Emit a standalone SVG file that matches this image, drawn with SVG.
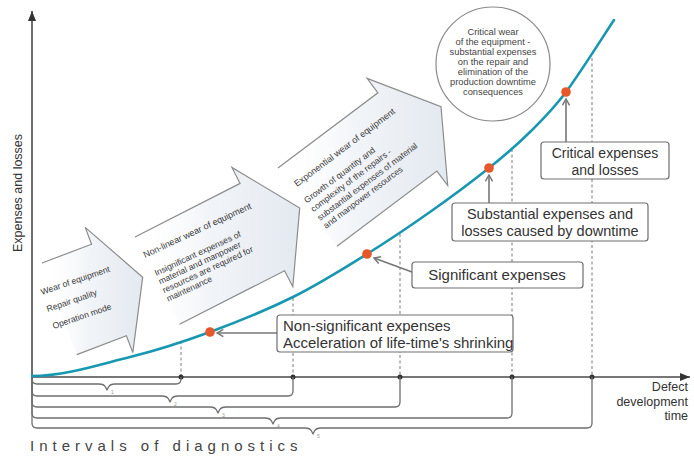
<svg xmlns="http://www.w3.org/2000/svg" width="694" height="456" viewBox="0 0 694 456">
<style>
.ax{stroke:#4a4a4a;stroke-width:1.6;fill:none}
.dash{stroke:#7a7a7a;stroke-width:1;stroke-dasharray:3 2.5;fill:none}
.br{stroke:#6e6e6e;stroke-width:1.3;fill:none;stroke-linejoin:round}
.box{fill:#fff;stroke:#6e6e6e;stroke-width:1.2}
.af{fill:url(#ag);stroke:none}
.ao{fill:none;stroke:#8c8c8c;stroke-width:1.2;stroke-linejoin:miter}
.conn{stroke:#777;stroke-width:1.6;fill:none;marker-end:url(#chev)}
.lbl{font-family:"Liberation Sans",Arial,sans-serif;font-size:15px;fill:#333}
.mid{text-anchor:middle}
.at{font-family:"Liberation Sans",Arial,sans-serif;font-size:8.6px;fill:#3a3a3a}
.ct{font-family:"Liberation Sans",Arial,sans-serif;font-size:9.3px;fill:#444;text-anchor:middle}
.dot{fill:#e8572a}
.tick{fill:#333}
.dig{font-family:"Liberation Sans",Arial,sans-serif;font-size:5px;fill:#999}
</style>
<defs>
<linearGradient id="ag" x1="0" y1="0" x2="1" y2="0">
<stop offset="0" stop-color="#ffffff" stop-opacity="0"/>
<stop offset="0.45" stop-color="#f0f3f7" stop-opacity="0.9"/>
<stop offset="1" stop-color="#e3e9f0" stop-opacity="1"/>
</linearGradient>
<marker id="ah" viewBox="0 0 10 8" refX="10" refY="4" markerWidth="10" markerHeight="8" markerUnits="userSpaceOnUse" orient="auto">
<path d="M0,0 L10,4 L0,8 z" fill="#333"/>
</marker>
<marker id="chev" viewBox="0 0 10 10" refX="9" refY="5" markerWidth="9" markerHeight="9" markerUnits="userSpaceOnUse" orient="auto">
<path d="M2,1 L9,5 L2,9" fill="none" stroke="#777" stroke-width="1.6"/>
</marker>
</defs>
<rect width="694" height="456" fill="#fff"/>

<g id="arrow1">
<path class="af" d="M76.8,354.6 L126.4,335.8 L132.8,352.6 L142.7,277.2 L85.2,227.4 L91.6,244.2 L42,263 Z"/>
<path class="ao" d="M76.8,354.6 L126.4,335.8 L132.8,352.6 L142.7,277.2 L85.2,227.4 L91.6,244.2 L42,263"/>
<g transform="translate(42,295) rotate(-19)">
<text class="at" x="0" y="0">Wear of equipment</text>
<text class="at" x="0" y="18">Repair quality</text>
<text class="at" x="0" y="36">Operation mode</text>
</g>
</g>

<g id="arrow2">
<path class="af" d="M179.5,324.3 L284.6,270.7 L292.8,286.7 L299.7,208 L231.9,167.4 L240.1,183.4 L135,237 Z"/>
<path class="ao" d="M179.5,324.3 L284.6,270.7 L292.8,286.7 L299.7,208 L231.9,167.4 L240.1,183.4 L135,237"/>
<g transform="translate(145,258) rotate(-25)">
<text class="at" x="0" y="0" style="font-size:9px">Non-linear wear of equipment</text>
<text class="at" x="2.5" y="21">Insignificant expenses of</text>
<text class="at" x="2.5" y="30.5">material and manpower</text>
<text class="at" x="2.5" y="40">resources are required for</text>
<text class="at" x="2.5" y="49.5">maintenance</text>
</g>
</g>

<g id="arrow3">
<path class="af" d="M337,246.3 L436.9,171.1 L447.7,185.5 L441,106.7 L367.1,78.4 L377.9,92.8 L278,168 Z"/>
<path class="ao" d="M337,246.3 L436.9,171.1 L447.7,185.5 L441,106.7 L367.1,78.4 L377.9,92.8 L278,168"/>
<g transform="translate(297,187) rotate(-37)">
<text class="at" x="0" y="0" style="font-size:9px">Exponential wear of equipment</text>
<text class="at" x="-2" y="19">Growth of quantity and</text>
<text class="at" x="-2" y="30">complexity of the repairs -</text>
<text class="at" x="-2" y="41">substantial expenses of material</text>
<text class="at" x="-2" y="51">and manpower resources</text>
</g>
</g>

<g id="grid">
<line class="dash" x1="181" y1="341" x2="181" y2="377"/>
<line class="dash" x1="293" y1="298" x2="293" y2="377"/>
<line class="dash" x1="400" y1="234" x2="400" y2="377"/>
<line class="dash" x1="512" y1="149" x2="512" y2="377"/>
<line class="dash" x1="592" y1="58" x2="592" y2="377"/>
</g>

<g id="axes">
<line class="ax" x1="32" y1="379" x2="32" y2="11" marker-end="url(#ah)"/>
<line class="ax" x1="31" y1="377" x2="690" y2="377" marker-end="url(#ah)"/>
<circle class="tick" cx="181" cy="377" r="2.5"/>
<circle class="tick" cx="293" cy="377" r="2.5"/>
<circle class="tick" cx="400" cy="377" r="2.5"/>
<circle class="tick" cx="512" cy="377" r="2.5"/>
<circle class="tick" cx="592" cy="377" r="2.5"/>
<text class="lbl" transform="translate(22,193) rotate(-90)" text-anchor="middle" style="font-size:12.5px">Expenses and losses</text>
<text class="lbl" x="688" y="391" text-anchor="end" style="font-size:12.5px">Defect</text>
<text class="lbl" x="688" y="405.5" text-anchor="end" style="font-size:12.5px">development</text>
<text class="lbl" x="688" y="420" text-anchor="end" style="font-size:12.5px">time</text>
</g>

<g id="intervals">
<path class="br" d="M32,377 V379 Q32,384 37,384 H99 q5,0 6.5,3 l1.5,3 l1.5,-3 q1.5,-3 6.5,-3 H176 Q181,384 181,379 V377"/>
<path class="br" d="M32,377 V391 Q32,396 37,396 H162 q5,0 6.5,3 l1.5,3 l1.5,-3 q1.5,-3 6.5,-3 H288 Q293,396 293,391 V377"/>
<path class="br" d="M32,377 V402 Q32,407 37,407 H210 q5,0 6.5,3 l1.5,3 l1.5,-3 q1.5,-3 6.5,-3 H395 Q400,407 400,402 V377"/>
<path class="br" d="M32,377 V413 Q32,418 37,418 H265 q5,0 6.5,3 l1.5,3 l1.5,-3 q1.5,-3 6.5,-3 H507 Q512,418 512,413 V377"/>
<path class="br" d="M32,377 V423 Q32,428 37,428 H305 q5,0 6.5,3 l1.5,3 l1.5,-3 q1.5,-3 6.5,-3 H587 Q592,428 592,423 V377"/>
<text class="dig" x="111" y="394">1</text>
<text class="dig" x="174" y="406">2</text>
<text class="dig" x="222" y="417">3</text>
<text class="dig" x="277" y="428">4</text>
<text class="dig" x="317" y="438">5</text>
<text class="lbl" x="30" y="451" style="font-size:15px;letter-spacing:5px;fill:#444">Intervals of diagnostics</text>
</g>

<g id="curve">
<path d="M32,376 C65,376 100.3,364.3 130,357 C159.7,349.7 182.8,342 210,332 C237.2,322 266.8,310 293,297 C319.2,284 344.2,268.2 367,254 C389.8,239.8 409.7,226.3 430,212 C450.3,197.7 472.3,181.3 489,168 C505.7,154.7 517.2,144.7 530,132 C542.8,119.3 552,110.7 566,92 C580,73.3 606,32 614,20" fill="none" stroke="#1798b0" stroke-width="2.6" stroke-linecap="round"/>
<circle class="dot" cx="210" cy="332" r="4.8"/>
<circle class="dot" cx="367" cy="254" r="4.8"/>
<circle class="dot" cx="489" cy="168" r="4.8"/>
<circle class="dot" cx="566" cy="92" r="4.8"/>
</g>

<g id="connectors">
<path class="conn" d="M277,333 L217,333"/>
<path class="conn" d="M412,272 L374,258"/>
<path class="conn" d="M489,203 L489,175"/>
<path class="conn" d="M566,142 L566,99"/>
</g>

<g id="label-nonsignificant">
<rect class="box" x="277" y="315" width="236" height="37" rx="3"/>
<text class="lbl" x="283" y="331">Non-significant expenses</text>
<text class="lbl" x="283" y="348">Acceleration of life-time's shrinking</text>
</g>

<g id="label-significant">
<rect class="box" x="412" y="262" width="171" height="26" rx="3"/>
<text class="lbl mid" x="497" y="280">Significant expenses</text>
</g>

<g id="label-substantial">
<rect class="box" x="452" y="203" width="196" height="38" rx="3"/>
<text class="lbl mid" x="550" y="219" style="font-size:14.5px">Substantial expenses and</text>
<text class="lbl mid" x="550" y="236" style="font-size:14.5px">losses caused by downtime</text>
</g>

<g id="label-critical">
<rect class="box" x="541" y="142" width="128" height="37" rx="3"/>
<text class="lbl mid" x="605" y="158" style="font-size:14px">Critical expenses</text>
<text class="lbl mid" x="605" y="174.5" style="font-size:14px">and losses</text>
</g>

<g id="critical-wear">
<circle cx="493" cy="64" r="57" fill="#fff" stroke="#8a8a8a" stroke-width="1.2"/>
<text class="ct" x="493" y="35">Critical wear</text>
<text class="ct" x="493" y="45">of the equipment -</text>
<text class="ct" x="493" y="55">substantial expenses</text>
<text class="ct" x="493" y="65">on the repair and</text>
<text class="ct" x="493" y="75">elimination of the</text>
<text class="ct" x="493" y="85">production downtime</text>
<text class="ct" x="493" y="95">consequences</text>
</g>
</svg>
